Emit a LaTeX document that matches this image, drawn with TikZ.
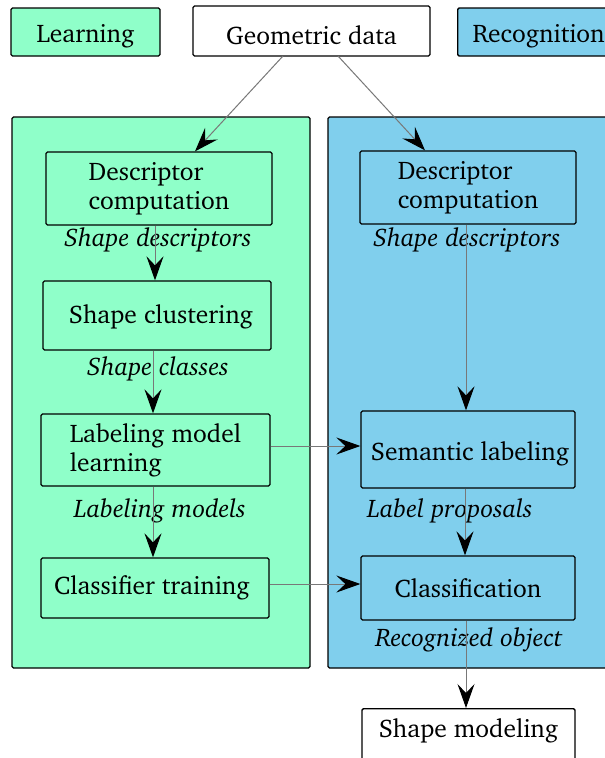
\documentclass[tikz,border=0pt]{standalone}
\usepackage[T1]{fontenc}
\usepackage{charter}
\usetikzlibrary{arrows.meta}
\definecolor{lgreen}{RGB}{143,255,201}
\definecolor{rblue}{RGB}{128,207,237}
\definecolor{edgegray}{RGB}{120,120,120}
\newcommand{\lowertext}[2]{\raisebox{0pt}[\dimexpr\height+#1\relax][\depth]{#2}}
\newcommand{\uppertext}[2]{\raisebox{0pt}[\height][\dimexpr\depth+#1\relax]{#2}}
\tikzset{
  x=1pt,y=-1pt,
  every node/.style={font=\fontsize{25.5}{29}\selectfont, inner sep=0pt},
  box/.style={draw=black, line width=1.3pt, rounded corners=1.5pt, align=left},
  panel/.style={draw=black, line width=1.3pt, rounded corners=1.5pt},
  lab/.style={font=\fontsize{25.5}{29}\selectfont\itshape},
  flow/.style={draw=edgegray, line width=1pt, -{Stealth[black, length=24pt, width=17pt, inset=9pt]}}
}
\begin{document}
\begin{tikzpicture}
\useasboundingbox (0,0) rectangle (605,758);
\clip (0,0) rectangle (605,758);
\fill[white] (0,0) rectangle (605,758);
% panels
\draw[panel, fill=lgreen] (12,117) rectangle (310,668);
\draw[panel, fill=rblue] (328,117) rectangle (620,668);
% top legend
\node[box, fill=lgreen, minimum width=149pt, minimum height=48pt] (learn) at (85.5,32) {\lowertext{8pt}{Learning}};
\node[box, fill=white, minimum width=237pt, minimum height=50pt] (geo) at (311.5,31) {\lowertext{8pt}{Geometric data}};
\node[box, fill=rblue, minimum height=48pt, inner xsep=15pt, anchor=west] (recog) at (457,32) {\lowertext{8pt}{\makebox[140pt][l]{Recognition}}};
% left column
\node[box, fill=lgreen, minimum width=226pt, minimum height=73pt] (ldesc) at (159,188.5) {Descriptor\\computation};
\node[box, fill=lgreen, minimum width=228pt, minimum height=69pt] (clus) at (157,315.5) {\lowertext{3pt}{\hspace{8pt}Shape clustering}};
\node[box, fill=lgreen, minimum width=229pt, minimum height=72pt] (lml) at (155.5,450) {Labeling model\\learning\hspace{2pt}};
\node[box, fill=lgreen, minimum width=228pt, minimum height=60pt] (ctrain) at (155,588) {Classifier training\hspace{6pt}};
% right column
\node[box, fill=rblue, minimum width=216pt, minimum height=73pt] (rdesc) at (468,187.5) {Descriptor\\computation\hspace{4pt}};
\node[box, fill=rblue, minimum width=214pt, minimum height=77pt] (sem) at (468,449.5) {\lowertext{8pt}{\hspace{4pt}Semantic labeling}};
\node[box, fill=rblue, minimum width=214pt, minimum height=64pt] (cls) at (468,588) {Classification};
\node[box, fill=white, minimum width=213pt, minimum height=66pt, anchor=north] (smod) at (468.5,708) {\uppertext{22pt}{Shape modeling}};
% edge labels
\node[lab] (l1) at (158,240) {Shape descriptors};
\node[lab] (l2) at (158,369) {Shape classes};
\node[lab] (l3) at (160,511) {Labeling models};
\node[lab] (l4) at (467,240) {Shape descriptors};
\node[lab] (l5) at (450,511) {Label proposals};
\node[lab] (l6) at (469,640) {Recognized object};
% connectors
\coordinate (g1) at (283,56);
\coordinate (g2) at (338,56);
\draw[flow] (g1) -- (ldesc.north -| 195,0);
\draw[flow] (g2) -- (rdesc.north -| 425,0);
\draw[flow] (ldesc.south -| 155,0) -- (clus.north -| 155,0);
\draw[flow] (clus.south -| 153,0) -- (lml.north -| 153,0);
\draw[flow] (lml.south -| 153,0) -- (ctrain.north -| 153,0);
\draw[flow] (rdesc.south -| 466,0) -- (sem.north -| 466,0);
\draw[flow] (sem.south -| 465,0) -- (cls.north -| 465,0);
\draw[flow] (cls.south -| 466,0) -- (smod.north -| 466,0);
\draw[flow] (lml.east |- 0,446) -- (sem.west |- 0,446);
\draw[flow] (ctrain.east |- 0,584) -- (cls.west |- 0,584);
\end{tikzpicture}
\end{document}
